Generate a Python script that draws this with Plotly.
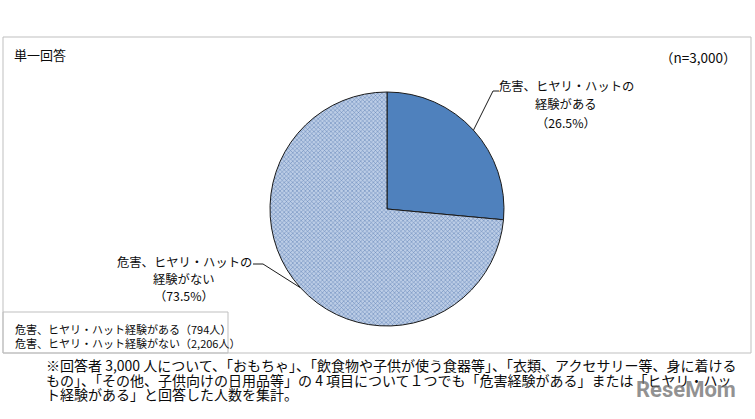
import math
import plotly.graph_objects as go

W, H = 755, 419

labels = ["危害、ヒヤリ・ハットの経験がある", "危害、ヒヤリ・ハットの経験がない"]
counts = [794, 2206]
pct_labels = ["（26.5%）", "（73.5%）"]
legend_lines = ["危害、ヒヤリ・ハット経験がある（794人）", "危害、ヒヤリ・ハット経験がない（2,206人）"]
footnote_lines = [
    "※回答者 3,000 人について、「おもちゃ」、「飲食物や子供が使う食器等」、「衣類、アクセサリー等、身に着ける",
    "もの」、「その他、子供向けの日用品等」の 4 項目について１つでも「危害経験がある」または「ヒヤリ・ハッ",
    "ト経験がある」と回答した人数を集計。",
]

FONT = "Noto Sans CJK JP"


def X(px):
    return px / W


def Y(py):
    return 1 - py / H


# pie geometry (pixels)
cx, cy, r = 387, 209, 117

fig = go.Figure()
fig.add_trace(go.Pie(
    labels=labels,
    values=counts,
    sort=False,
    direction="clockwise",
    rotation=0,
    textinfo="none",
    hoverinfo="label+value+percent",
    showlegend=False,
    domain=dict(x=[X(cx - r), X(cx + r)], y=[Y(cy + r), Y(cy - r)]),
    marker=dict(
        colors=["#4F81BD", "#BCCDE6"],
        line=dict(color="#1a1a1a", width=1),
        pattern=dict(
            shape=["", "x"],
            fgcolor=["#4F81BD", "#5F7FB5"],
            bgcolor=["#4F81BD", "#BCCDE6"],
            size=3,
            solidity=0.3,
            fillmode="replace",
        ),
    ),
))

# edge points at slice midpoints (computed from data)
total = sum(counts)
cum = 0
edges = []
for v in counts:
    mid = (cum + v / 2) / total * 2 * math.pi
    edges.append((cx + r * math.sin(mid), cy - r * math.cos(mid)))
    cum += v

shapes = []
# outer frame
shapes.append(dict(type="rect", xref="paper", yref="paper",
                   x0=X(3), x1=X(751), y0=Y(353), y1=Y(37),
                   line=dict(color="#BFBFBF", width=1)))
# legend box
shapes.append(dict(type="rect", xref="paper", yref="paper",
                   x0=X(3), x1=X(228), y0=Y(353), y1=Y(312),
                   line=dict(color="#BFBFBF", width=1)))
# leader lines
e1x, e1y = edges[0]
shapes.append(dict(type="path", xref="paper", yref="paper",
                   path=f"M {X(e1x)},{Y(e1y)} L {X(493)},{Y(91)} L {X(499)},{Y(91)}",
                   line=dict(color="#1a1a1a", width=1)))
e2x, e2y = edges[1]
shapes.append(dict(type="path", xref="paper", yref="paper",
                   path=f"M {X(e2x)},{Y(e2y)} L {X(263)},{Y(264)} L {X(253)},{Y(264)}",
                   line=dict(color="#1a1a1a", width=1)))

ann = []


def text(s, x, y, size, anchor="left", color="#0a0a0a", family=FONT, **kw):
    ann.append(dict(text=s, x=X(x), y=Y(y), xref="paper", yref="paper",
                    xanchor=anchor, yanchor="middle", showarrow=False,
                    font=dict(family=family, size=size, color=color), **kw))


text("単一回答", 12, 55, 13)
text("（n=3,000）", 738, 57, 13.5, anchor="right")

# label 1
text("危害、ヒヤリ・ハットの", 566, 86, 12.3, anchor="center")
text("経験がある", 566, 104, 12.3, anchor="center")
text(pct_labels[0], 566, 123, 12.3, anchor="center")
# label 2
text("危害、ヒヤリ・ハットの", 184, 262, 12.3, anchor="center")
text("経験がない", 184, 279, 12.3, anchor="center")
text(pct_labels[1], 184, 296, 12.3, anchor="center")

# legend text
for i, s in enumerate(legend_lines):
    text(s, 13, 329 + 14 * i, 11)

# footnote
for i, s in enumerate(footnote_lines):
    text(s, 44, 365 + 14.5 * i, 14)

# watermark
ann.append(dict(text="<b>ReseMom</b>", x=X(738), y=Y(389), xref="paper", yref="paper",
                xanchor="right", yanchor="middle", showarrow=False,
                font=dict(family="Liberation Sans Narrow, Roboto", size=22,
                          color="rgba(110,110,110,0.75)")))

fig.update_layout(
    width=W, height=H,
    margin=dict(l=0, r=0, t=0, b=0),
    paper_bgcolor="white",
    plot_bgcolor="white",
    shapes=shapes,
    annotations=ann,
    showlegend=False,
)

fig.write_html(
    "out.html",
    config={"displayModeBar": False},
    post_script="document.body.style.margin='0px';document.body.style.overflow='hidden';",
)
